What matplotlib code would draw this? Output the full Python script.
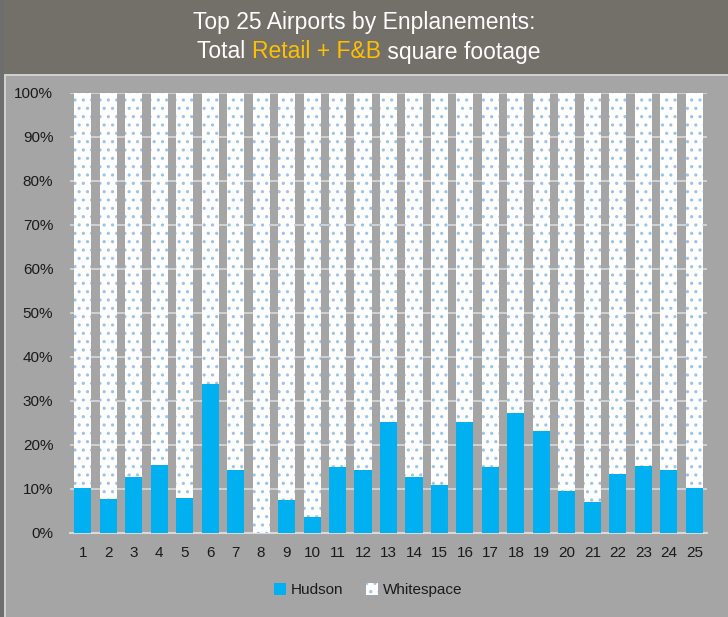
import matplotlib
matplotlib.use("Agg")
import matplotlib.pyplot as plt
from matplotlib.patches import Rectangle, Patch
import numpy as np

plt.rcParams['font.family'] = ['Liberation Sans', 'DejaVu Sans']
plt.rcParams['hatch.linewidth'] = 1.1

airports = [str(i) for i in range(1, 26)]
hudson = [10.2, 7.6, 12.7, 15.4, 7.9, 33.8, 14.3, 0.0, 7.3, 3.6,
          15.0, 14.3, 25.1, 12.7, 10.7, 25.2, 14.8, 27.3, 23.0, 9.5,
          7.0, 13.4, 15.2, 14.3, 10.1]
whitespace = [100 - v for v in hudson]
yticks = [0, 10, 20, 30, 40, 50, 60, 70, 80, 90, 100]
ytick_labels = [f"{t}%" for t in yticks]

body_bg = '#A5A5A5'
header_bg = '#737069'
blue = '#00B0F0'
dot = '#9CC3EA'

fig = plt.figure(figsize=(7.28, 6.17), dpi=100)
fig.patch.set_facecolor(body_bg)

# header band and frame
fig.patches.append(Rectangle((0, 1 - 74/617), 1, 74/617, transform=fig.transFigure,
                             facecolor=header_bg, edgecolor='none', zorder=0))
fig.patches.append(Rectangle((0, 0), 4/728, 1, transform=fig.transFigure,
                             facecolor='#6E6E6E', edgecolor='none', zorder=0))
fig.patches.append(Rectangle((4/728, 1 - 76/617), 1, 2/617, transform=fig.transFigure,
                             facecolor='#D0D0D0', edgecolor='none', zorder=0))
fig.patches.append(Rectangle((4/728, 0), 1.5/728, 1 - 74/617, transform=fig.transFigure,
                             facecolor='#D0D0D0', edgecolor='none', zorder=0))

ax = fig.add_axes([70/728, 1 - 532.5/617, 637/728, (532.5 - 93)/617])
ax.set_facecolor(body_bg)
x = np.arange(1, 26)
ax.bar(x, hudson, width=0.67, color=blue, edgecolor='none', zorder=3, label='Hudson')
ax.bar(x, whitespace, bottom=hudson, width=0.67, color='white', edgecolor=dot,
       linewidth=0, hatch='..', zorder=3, label='Whitespace')

ax.set_xlim(0.5, 25.5)
ax.set_ylim(0, 100)
ax.set_yticks(yticks)
ax.set_yticklabels(ytick_labels)
ax.set_xticks(x)
ax.set_xticklabels(airports)
ax.grid(axis='y', color='#D9D9D9', linewidth=1.2, zorder=0)
for s in ['top', 'right', 'left']:
    ax.spines[s].set_visible(False)
ax.spines['bottom'].set_color('#D9D9D9')
ax.spines['bottom'].set_linewidth(1.5)
ax.tick_params(axis='both', length=0, labelsize=11, labelcolor='#1A1A1A')
ax.tick_params(axis='y', pad=12)
ax.tick_params(axis='x', pad=10)

# title
fig.text(0.5, 1 - 22/617, "Top 25 Airports by Enplanements:", ha='center', va='center',
         color='white', fontsize=16.5)
y2 = 1 - 52/617
parts = [("Total ", 'white'), ("Retail + F&B", '#FFC000'), (" square footage", 'white')]
renderer = fig.canvas.get_renderer()
texts = []
widths = []
for s, c in parts:
    t = fig.text(0, y2, s, ha='left', va='center', color=c, fontsize=16.5)
    bb = t.get_window_extent(renderer=renderer)
    texts.append(t)
    widths.append(bb.width)
total = sum(widths)
start = (738 / 2 - total / 2)
for t, w in zip(texts, widths):
    t.set_x(start / 728)
    start += w

handles = [Patch(facecolor=blue, edgecolor='none', label='Hudson'),
           Patch(facecolor='white', edgecolor=dot, linewidth=0, hatch='..', label='Whitespace')]
leg = fig.legend(handles=handles, loc='center', bbox_to_anchor=(368/728, 1 - 590/617),
                 ncol=2, frameon=False, fontsize=11, handlelength=0.8, handleheight=0.8,
                 columnspacing=1.5, handletextpad=0.3)
for t in leg.get_texts():
    t.set_color('#1A1A1A')

fig.savefig('out.png', dpi=100, facecolor=fig.get_facecolor())
